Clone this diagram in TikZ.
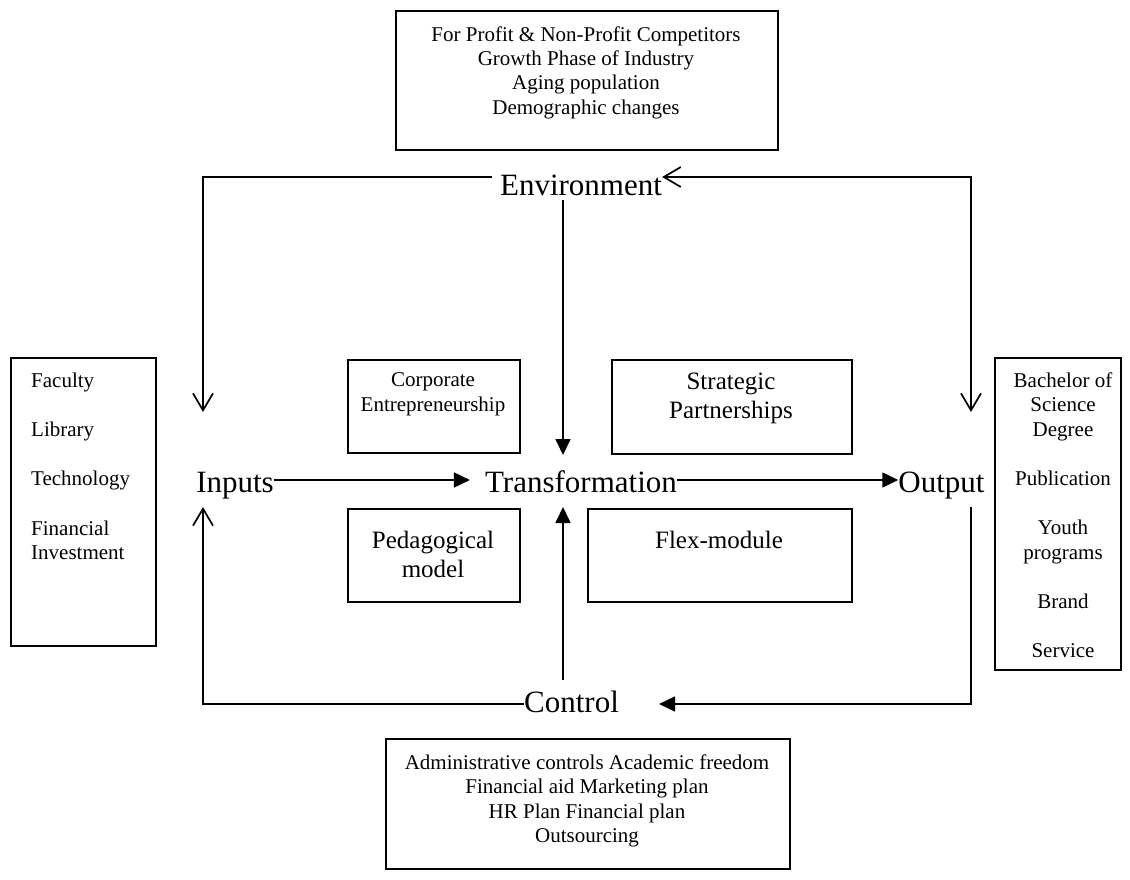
\documentclass[tikz,border=0pt]{standalone}
\usepackage{fontspec}
\setmainfont{Liberation Serif}
\usetikzlibrary{arrows.meta}
\begin{document}
\begin{tikzpicture}[x=1pt,y=-1pt,
 box/.style={draw, line width=1.7pt, inner sep=0pt, anchor=north west},
 big/.style={font=\fontsize{31}{34}\selectfont, inner sep=0pt, anchor=base},
 med/.style={font=\fontsize{25}{29}\selectfont, align=center, inner sep=0pt, anchor=north},
 small/.style={font=\fontsize{21}{24.3}\selectfont, align=center, inner sep=0pt, anchor=north},
 conn/.style={line width=1.7pt},
 openarr/.style={conn, -{Straight Barb[length=17pt,width=20pt,line width=1.7pt]}},
 bothopen/.style={conn, {Straight Barb[length=17pt,width=20pt,line width=1.7pt]}-{Straight Barb[length=17pt,width=20pt,line width=1.7pt]}},
 fillarr/.style={conn, -{Triangle[length=16pt,width=15pt]}},
]
\useasboundingbox (0,0) rectangle (1130,880);
% boxes
\node[box, minimum width=382pt, minimum height=139pt] (topbox) at (395,10) {};
\node[box, minimum width=145pt, minimum height=288pt] (leftbox) at (10,357) {};
\node[box, minimum width=126pt, minimum height=312pt] (rightbox) at (994,357) {};
\node[box, minimum width=172pt, minimum height=93pt] (corpbox) at (347,359) {};
\node[box, minimum width=240pt, minimum height=94pt] (stratbox) at (611,359) {};
\node[box, minimum width=172pt, minimum height=93pt] (pedbox) at (347,508) {};
\node[box, minimum width=264pt, minimum height=93pt] (flexbox) at (587,508) {};
\node[box, minimum width=404pt, minimum height=130pt] (ctlbox) at (385,738) {};
% box texts
\node[small] (toptxt) at (586,26.2) {For Profit \& Non-Profit Competitors\\Growth Phase of Industry\\Aging population\\Demographic changes};
\node[small, align=left, anchor=north west] (lefttxt) at (31,372.6) {Faculty\\[25pt]Library\\[25pt]Technology\\[25pt]Financial\\Investment};
\node[small] (righttxt) at (1063,372.6) {Bachelor of\\Science\\Degree\\[25pt]Publication\\[25pt]Youth\\programs\\[25pt]Brand\\[25pt]Service};
\node[small] (corptxt) at (433,372.6) {Corporate\\Entrepreneurship};
\node[med] (strattxt) at (731,373.2) {Strategic\\Partnerships};
\node[med] (pedtxt) at (433,531.2) {Pedagogical\\model};
\node[med] (flextxt) at (719,531.2) {Flex-module};
\node[small] (ctltxt) at (587,754.6) {Administrative controls Academic freedom\\Financial aid Marketing plan\\HR Plan Financial plan\\Outsourcing};
% main labels
\node[big] (env) at (581,196) {Environment};
\node[big] (in) at (235,492) {Inputs};
\node[big] (tr) at (581,492) {Transformation};
\node[big] (out) at (941.5,492) {Output};
\node[big] (ctl) at (571.5,712) {Control};
% helper coordinates
\coordinate (envL) at (203,177);
\coordinate (envR) at (971,177);
\coordinate (inTop) at (203,412);
\coordinate (outTop) at (971,412);
\coordinate (midY) at (0,480);
\coordinate (envDownS) at (563,200);
\coordinate (trTop) at (563,455);
\coordinate (ctlUpS) at (563,680);
\coordinate (trBot) at (563,507);
\coordinate (ctlL) at (203,704);
\coordinate (inBot) at (203,507);
\coordinate (outBot) at (971,507);
\coordinate (ctlR) at (971,704);
\path (env.west) ++(-8pt,0) coordinate (envW);
\path (ctl.east) ++(40pt,0) coordinate (ctlE);
% connectors
\draw[openarr] (envW |- envL) -- (envL) -- (inTop);
\draw[bothopen] (env.east |- envR) -- (envR) -- (outTop);
\draw[fillarr] (envDownS) -- (trTop);
\draw[fillarr] (in.east |- midY) -- ([xshift=-15pt]tr.west |- midY);
\draw[fillarr] (tr.east |- midY) -- (out.west |- midY);
\draw[fillarr] (ctlUpS) -- (trBot);
\draw[openarr] (ctl.west |- ctlL) -- (ctlL) -- (inBot);
\draw[fillarr] (outBot) -- (ctlR) -- (ctlE |- ctlR);
\end{tikzpicture}
\end{document}
